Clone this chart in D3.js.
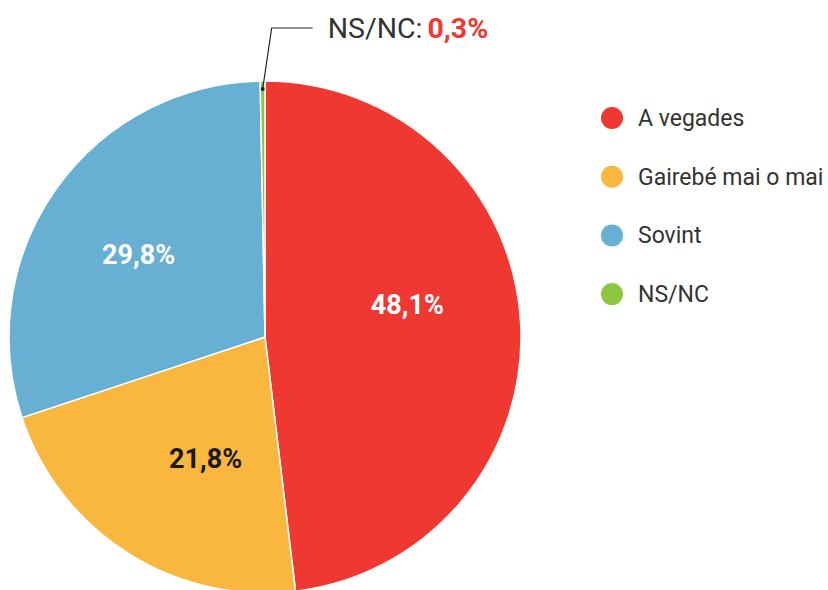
<!DOCTYPE html>
<html>
<head>
<meta charset="utf-8">
<script src="https://cdn.jsdelivr.net/npm/d3@7"></script>
<style>
  body { margin: 0; background: #fff; }
  svg { display: block; font-family: Roboto, "Noto Sans", sans-serif; }
</style>
</head>
<body>
<svg id="chart" width="828" height="590"></svg>
<script>
// data
var categories = ['A vegades', 'Gairebé mai o mai', 'Sovint', 'NS/NC'];
var values = [48.1, 21.8, 29.8, 0.3];
var labels = ['48,1%', '21,8%', '29,8%', '0,3%'];
var colors = ['#ee3831', '#f9b73f', '#67b0d3', '#8dc63f'];
var labelColors = ['#fff', '#1a1a1a', '#fff', null];

var svg = d3.select('#chart');
var cx = 265, cy = 337, r = 256;

// where inside each slice the label sits: [fraction of slice angle, radius]
var labelPlace = [[0.445, 146], [0.42, 135], [0.48, 151]];

var rows = categories.map(function(c, i){
  return { name: c, value: values[i], label: labels[i], color: colors[i], lc: labelColors[i] };
});

var pie = d3.pie().sort(null).value(function(d){ return d.value; });
var arc = d3.arc().innerRadius(0).outerRadius(r);

var g = svg.append('g').attr('transform', 'translate(' + cx + ',' + cy + ')');
var arcs = pie(rows);

g.selectAll('path.slice')
  .data(arcs)
  .enter().append('path')
  .attr('class', 'slice')
  .attr('d', arc)
  .attr('fill', function(d){ return d.data.color; })
  .attr('stroke', '#fff')
  .attr('stroke-width', 1.5);

// inner labels (small slice gets a callout instead)
g.selectAll('text.pct')
  .data(arcs.filter(function(d){ return d.data.lc; }))
  .enter().append('text')
  .attr('class', 'pct')
  .attr('transform', function(d){
    var p = labelPlace[d.index];
    var a = d.startAngle + (d.endAngle - d.startAngle) * p[0];
    return 'translate(' + (Math.sin(a) * p[1]) + ',' + (-Math.cos(a) * p[1]) + ')';
  })
  .attr('text-anchor', 'middle')
  .attr('dy', '0.35em')
  .attr('fill', function(d){ return d.data.lc; })
  .style('font-size', '27px')
  .style('font-weight', 'bold')
  .text(function(d){ return d.data.label; });

// callout for NS/NC
var small = arcs[3];
var mid = (small.startAngle + small.endAngle) / 2;
var px = Math.sin(mid) * (r - 8), py = -Math.cos(mid) * (r - 8);
g.append('circle').attr('cx', px).attr('cy', py).attr('r', 2).attr('fill', '#222');
g.append('polyline')
  .attr('points', [[px, py], [px + 9, -309], [px + 50, -309]].map(function(p){ return p.join(','); }).join(' '))
  .attr('fill', 'none')
  .attr('stroke', '#222')
  .attr('stroke-width', 1.2);
var callout = g.append('text')
  .attr('x', px + 65)
  .attr('y', -309)
  .attr('dy', '0.35em')
  .style('font-size', '28.5px');
callout.append('tspan').attr('fill', '#333').text(small.data.name + ':');
callout.append('tspan').attr('fill', '#ee3831').attr('dx', 5).style('font-weight', 'bold').text(small.data.label);

// legend
var legend = svg.append('g').attr('transform', 'translate(612,118)');
var li = legend.selectAll('g.item')
  .data(rows)
  .enter().append('g')
  .attr('class', 'item')
  .attr('transform', function(d, i){ return 'translate(0,' + (i * 58.7) + ')'; });
li.append('circle').attr('r', 11).attr('fill', function(d){ return d.color; });
li.append('text')
  .attr('x', 26)
  .attr('dy', '0.35em')
  .attr('fill', '#333')
  .style('font-size', '23px')
  .text(function(d){ return d.name; });
</script>
</body>
</html>
